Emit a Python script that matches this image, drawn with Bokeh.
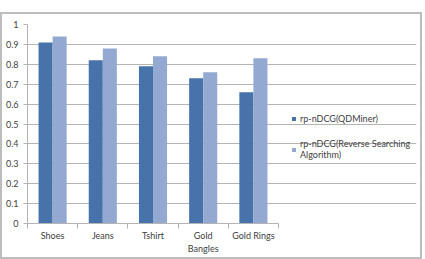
from bokeh.plotting import figure
from bokeh.layouts import column
from bokeh.models import (Range1d, FixedTicker, Legend, LegendItem, ColumnDataSource, Spacer, Div)
from bokeh.embed import file_html
from bokeh.resources import INLINE

categories = ["Shoes", "Jeans", "Tshirt", "Gold\nBangles", "Gold Rings"]
qdminer = [0.91, 0.82, 0.79, 0.73, 0.66]
reverse_search = [0.94, 0.88, 0.84, 0.76, 0.83]
y_ticks = [0, 0.1, 0.2, 0.3, 0.4, 0.5, 0.6, 0.7, 0.8, 0.9, 1]
series_names = ["rp-nDCG(QDMiner)", "rp-nDCG(Reverse Searching\nAlgorithm)"]

DARK = "#4772aa"
LIGHT = "#93a9d1"
GRID = "#b4b4b4"
TEXT = "#404040"
FRAME = "#bdbdbd"
FONT = "Lato"

n = len(categories)
centers = [i + 0.5 for i in range(n)]
bar_w = 0.28

p = figure(width=418, height=243, frame_width=389, frame_height=199,
           x_range=Range1d(0, 389 / 50.2), y_range=Range1d(0, 1),
           output_backend="svg", toolbar_location=None,
           min_border_left=25, min_border_right=4, min_border_top=10, min_border_bottom=34)
p.outline_line_color = None
p.background_fill_color = "white"
p.border_fill_color = "white"

src = ColumnDataSource(dict(
    x_a=[c - bar_w / 2 for c in centers],
    x_b=[c + bar_w / 2 for c in centers],
    a=qdminer, b=reverse_search))
r1 = p.vbar(x="x_a", top="a", width=bar_w, source=src, fill_color=DARK, line_color=None)
r2 = p.vbar(x="x_b", top="b", width=bar_w, source=src, fill_color=LIGHT, line_color=None)

# x axis: labels at category centres, small ticks at category boundaries
xa = p.xaxis[0]
xa.ticker = FixedTicker(ticks=centers, minor_ticks=list(range(n + 1)))
xa.major_label_overrides = {c: lab for c, lab in zip(centers, categories)}
xa.major_tick_out = 0
xa.major_tick_in = 0
xa.minor_tick_out = 5
xa.minor_tick_in = 0
xa.minor_tick_line_color = GRID
xa.axis_line_color = GRID
xa.bounds = (0, n)
xa.major_label_text_font = FONT
xa.major_label_text_font_size = "9px"
xa.major_label_text_color = TEXT
xa.major_label_standoff = 1

ya = p.yaxis[0]
ya.ticker = FixedTicker(ticks=y_ticks, minor_ticks=[])
ya.major_label_overrides = {t: ("%g" % t) for t in y_ticks}
ya.major_tick_out = 4
ya.major_tick_in = 0
ya.major_tick_line_color = GRID
ya.axis_line_color = GRID
ya.major_label_text_font = FONT
ya.major_label_text_font_size = "9px"
ya.major_label_text_color = TEXT
ya.major_label_standoff = 5

p.xgrid.visible = False
p.ygrid[0].ticker = FixedTicker(ticks=y_ticks)
p.ygrid[0].grid_line_color = GRID
p.ygrid[0].bounds = (0, n)

legend = Legend(items=[LegendItem(label=series_names[0], renderers=[r1]),
                       LegendItem(label=series_names[1], renderers=[r2])],
                location=(264, 63), border_line_color=None, background_fill_alpha=0,
                label_text_font=FONT, label_text_font_size="9px", label_text_color=TEXT,
                label_text_line_height=1.3,
                glyph_width=5, glyph_height=5, label_standoff=4, spacing=14,
                padding=0, margin=0)
p.add_layout(legend)

# chart-area frame: a solid top rule, then side and bottom borders round the figure
top_rule = Div(text="", width=422, height=2, margin=0,
               styles={"background-color": FRAME})
framed = column(p, margin=0, styles={"border-left": f"2px solid {FRAME}",
                                     "border-right": f"2px solid {FRAME}",
                                     "border-bottom": f"2px solid {FRAME}"})
page = column(Spacer(width=422, height=12, margin=0), top_rule, framed, spacing=0)

open("out.html", "w").write(file_html(page, INLINE))
